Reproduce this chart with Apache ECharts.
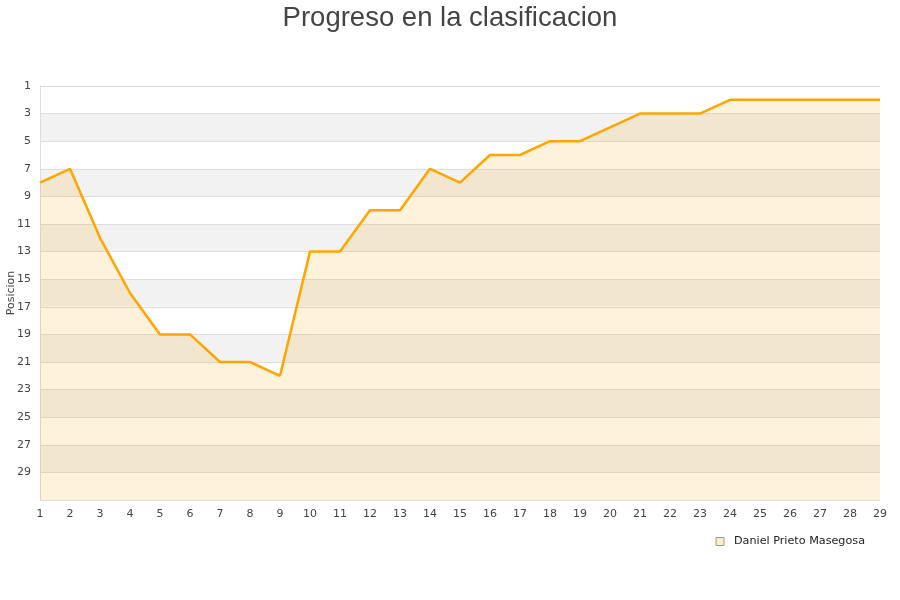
<!DOCTYPE html>
<html>
<head>
<meta charset="utf-8">
<script src="https://cdn.jsdelivr.net/npm/echarts@6/dist/echarts.min.js"></script>
<style>html,body{margin:0;padding:0;background:#fff}#c{width:900px;height:600px}</style>
</head>
<body>
<div id="c"></div>
<script>
var jornadas = ['1','2','3','4','5','6','7','8','9','10','11','12','13','14','15','16','17','18','19','20','21','22','23','24','25','26','27','28','29'];
var posiciones = [8,7,12,16,19,19,21,21,22,13,13,10,10,7,8,6,6,5,5,4,3,3,3,2,2,2,2,2,2];
var serieNombre = 'Daniel Prieto Masegosa';
var tituloTexto = 'Progreso en la clasificacion';
var ejeYNombre = 'Posicion';

var chart = echarts.init(document.getElementById('c'), null, {renderer: 'canvas'});
chart.setOption({
  animation: false,
  title: {
    text: tituloTexto,
    left: 'center',
    top: -1,
    textStyle: {fontFamily: 'Liberation Sans', fontSize: 27.5, fontWeight: 'normal', color: '#444'}
  },
  legend: {
    data: [{name: serieNombre, icon: 'rect'}],
    right: 30,
    top: 531,
    itemWidth: 8,
    itemHeight: 8,
    itemGap: 10,
    textStyle: {fontFamily: 'DejaVu Sans', fontSize: 11.2, color: '#222', padding: [0, 0, 0, 5]},
    itemStyle: {color: '#FFEDCC', borderColor: '#999', borderWidth: 1}
  },
  grid: {left: 40, right: 20, top: 86, bottom: 100, containLabel: false, outerBoundsMode: 'none'},
  xAxis: {
    type: 'category',
    data: jornadas,
    boundaryGap: false,
    axisLine: {lineStyle: {color: '#ddd'}},
    axisTick: {show: false},
    axisLabel: {fontFamily: 'DejaVu Sans', fontSize: 11, color: '#444', margin: 9, interval: 0},
    splitLine: {show: false}
  },
  yAxis: {
    type: 'value',
    inverse: true,
    min: 1,
    max: 31,
    interval: 2,
    name: ejeYNombre,
    nameLocation: 'middle',
    nameGap: 23,
    nameMoveOverlap: false,
    nameTextStyle: {fontFamily: 'DejaVu Sans', fontSize: 11, color: '#444'},
    axisLine: {show: true, lineStyle: {color: '#ddd'}},
    axisTick: {show: false},
    axisLabel: {fontFamily: 'DejaVu Sans', fontSize: 11, color: '#444', margin: 9,
      formatter: function (v) { return v >= 31 ? '' : v; }},
    splitLine: {show: true, lineStyle: {color: '#ddd', width: 1}},
    splitArea: {show: true, areaStyle: {color: ['#ffffff', '#f2f2f2']}}
  },
  series: [{
    name: serieNombre,
    type: 'line',
    data: posiciones,
    symbol: 'none',
    lineStyle: {color: '#FFA500', width: 2.5},
    itemStyle: {color: '#FFA500'},
    areaStyle: {color: 'rgba(255,165,0,0.2)', origin: 'end'}
  }]
});
</script>
</body>
</html>
